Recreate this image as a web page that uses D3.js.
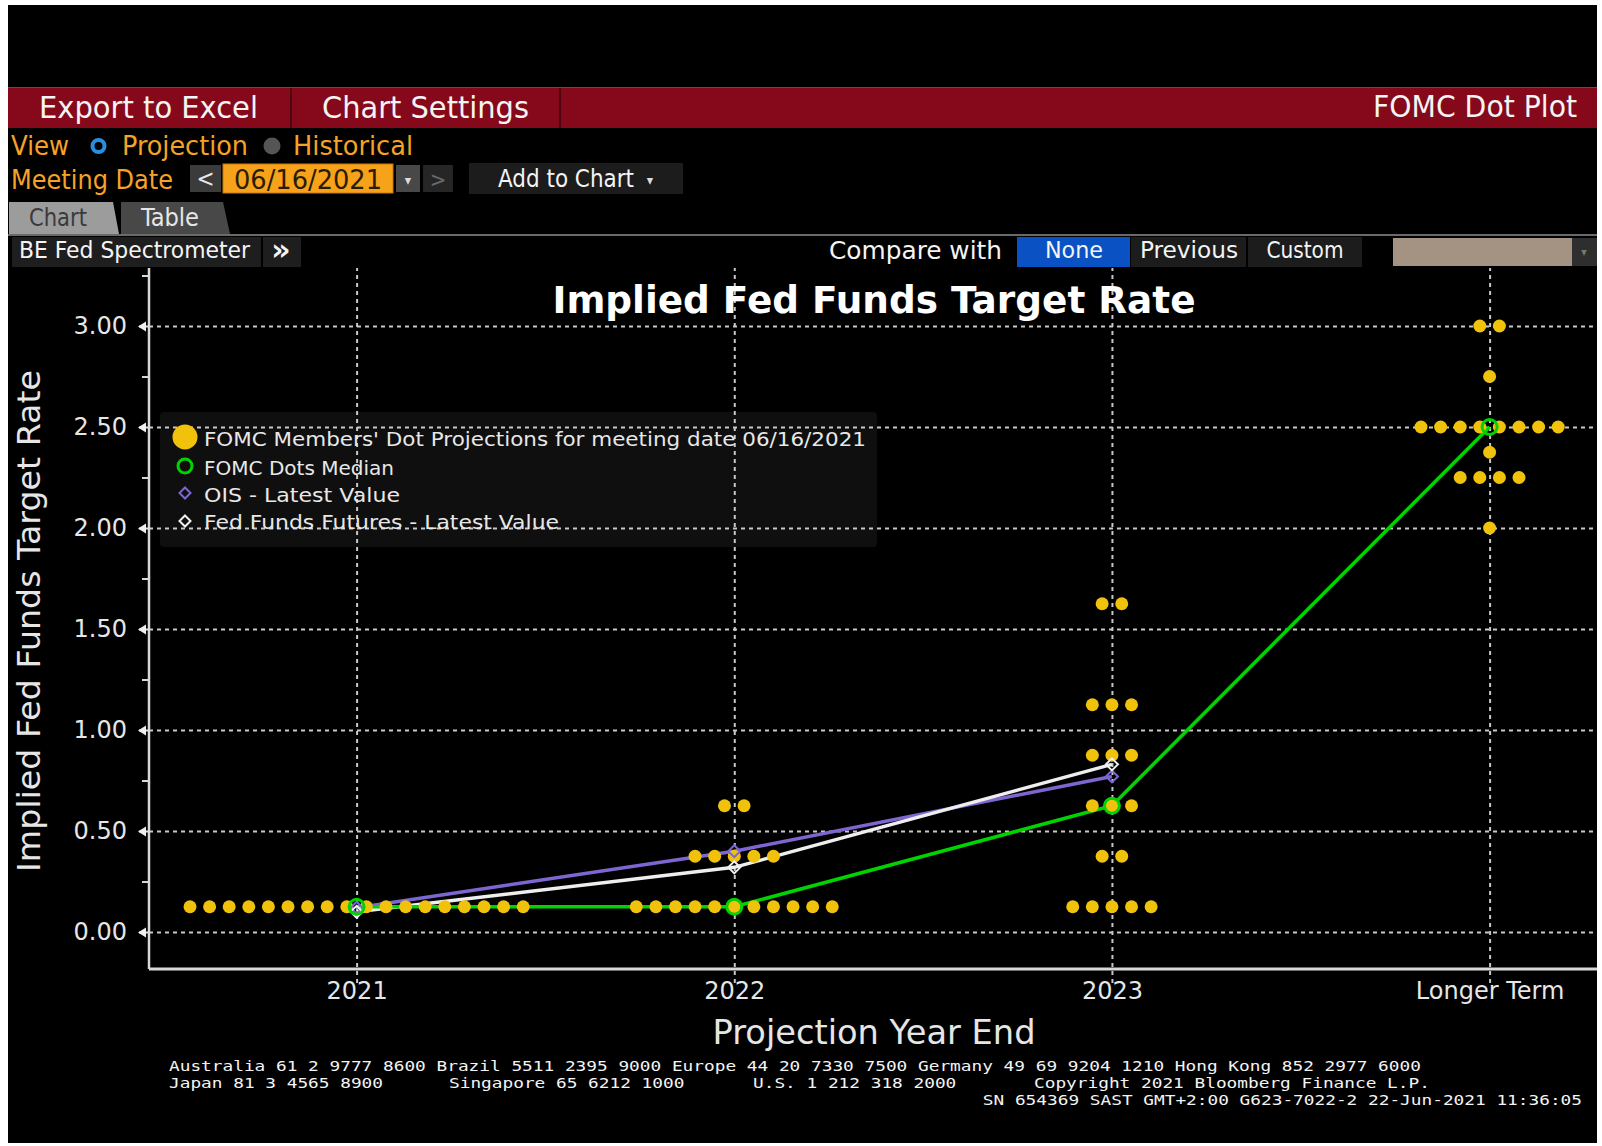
<!DOCTYPE html>
<html>
<head>
<meta charset="utf-8">
<script src="https://cdn.jsdelivr.net/npm/d3@7"></script>
<style>
  body { margin: 0; background: #fff; }
  svg { display: block; }
</style>
</head>
<body>
<script>
// categories on the x axis
const categories = ["2021", "2022", "2023", "Longer Term"];

// FOMC dots: [rate, number of members] per projection year
const dots2021 = [[0.125, 18]];
const dots2022 = [[0.125, 11], [0.375, 5], [0.625, 2]];
const dots2023 = [[0.125, 5], [0.375, 2], [0.625, 3], [0.875, 3], [1.125, 3], [1.625, 2]];
const dotsLonger = [[2.0, 1], [2.25, 4], [2.375, 1], [2.5, 8], [2.75, 1], [3.0, 2]];
const dotGroups = [dots2021, dots2022, dots2023, dotsLonger];

// line series
const medianValues = [0.125, 0.125, 0.625, 2.5];
const oisValues = [0.12, 0.40, 0.77];
const futuresValues = [0.10, 0.32, 0.83];

// axis ticks
const yMajorTicks = [0, 0.5, 1, 1.5, 2, 2.5, 3];
const yMinorTicks = [0.25, 0.75, 1.25, 1.75, 2.25, 2.75, 3.25];

const legendLabels = [
  "FOMC Members' Dot Projections for meeting date 06/16/2021",
  "FOMC Dots Median",
  "OIS - Latest Value",
  "Fed Funds Futures - Latest Value"
];

const footerLine1 = "Australia 61 2 9777 8600 Brazil 5511 2395 9000 Europe 44 20 7330 7500 Germany 49 69 9204 1210 Hong Kong 852 2977 6000";
const footerLine2 = ["Japan 81 3 4565 8900", "Singapore 65 6212 1000", "U.S. 1 212 318 2000", "Copyright 2021 Bloomberg Finance L.P."];
const footerLine3 = "SN 654369 SAST GMT+2:00 G623-7022-2 22-Jun-2021 11:36:05";

const W = 1602, H = 1146;
const uiFont = "'DejaVu Sans Condensed', 'DejaVu Sans', sans-serif";
const chartFont = "'DejaVu Sans', Verdana, sans-serif";
const orange = "#f5a327";
const dotColor = "#f0c20c";

const svg = d3.select("body").append("svg").attr("width", W).attr("height", H);

// black terminal panel
svg.append("rect").attr("x", 8).attr("y", 5).attr("width", 1589).attr("height", 1138).attr("fill", "#000");

// small helper for fitted text
function label(g, x, y, txt, size, color, width, anchor, font, weight) {
  const t = g.append("text")
    .attr("x", x).attr("y", y)
    .attr("font-family", font || uiFont)
    .attr("font-size", size)
    .attr("font-weight", weight || "normal")
    .attr("fill", color)
    .attr("text-anchor", anchor || "start")
    .text(txt);
  if (width) t.attr("textLength", width).attr("lengthAdjust", "spacingAndGlyphs");
  return t;
}

// ---- header bar ----
const head = svg.append("g");
head.append("rect").attr("x", 8).attr("y", 87).attr("width", 1589).attr("height", 41).attr("fill", "#85091a");
head.append("line").attr("x1", 8).attr("x2", 1597).attr("y1", 87.5).attr("y2", 87.5).attr("stroke", "#a33040");
[291, 560].forEach(function (sx) {
  head.append("line").attr("x1", sx).attr("x2", sx).attr("y1", 88).attr("y2", 128).attr("stroke", "#4e0510").attr("stroke-width", 2);
});
label(head, 39, 118, "Export to Excel", 31, "#f4f4f4", 219);
label(head, 322, 118, "Chart Settings", 31, "#f4f4f4", 207);
label(head, 1373, 117, "FOMC Dot Plot", 31, "#f4f4f4", 204);

// ---- view row ----
label(head, 11, 155, "View", 26, orange, 58);
head.append("circle").attr("cx", 98.5).attr("cy", 146).attr("r", 6).attr("fill", "none").attr("stroke", "#2a8ee0").attr("stroke-width", 4);
label(head, 122, 155, "Projection", 26, orange, 126);
head.append("circle").attr("cx", 272).attr("cy", 146).attr("r", 8.5).attr("fill", "#555");
label(head, 293, 155, "Historical", 26, orange, 120);

// ---- meeting date row ----
label(head, 11, 189, "Meeting Date", 26, orange, 162);
head.append("rect").attr("x", 190).attr("y", 165).attr("width", 31).attr("height", 27).attr("fill", "#3b3b3b");
label(head, 205.5, 187, "<", 24, "#e8e8e8", null, "middle");
head.append("rect").attr("x", 223).attr("y", 164).attr("width", 170).attr("height", 29).attr("fill", "#f7a21b").attr("stroke", "#c77a0a");
label(head, 308, 189, "06/16/2021", 26, "#2b1c00", 148, "middle");
head.append("rect").attr("x", 396).attr("y", 165).attr("width", 24).attr("height", 27).attr("fill", "#484848");
label(head, 408, 185, "▾", 14, "#ddd", null, "middle");
head.append("rect").attr("x", 423).attr("y", 165).attr("width", 30).attr("height", 27).attr("fill", "#262626");
label(head, 438, 187, ">", 22, "#6a6a6a", null, "middle");
head.append("rect").attr("x", 469).attr("y", 163).attr("width", 214).attr("height", 31).attr("fill", "#1c1c1c");
label(head, 498, 187, "Add to Chart", 24, "#f4f4f4", 136);
label(head, 650, 185, "▾", 14, "#ddd", null, "middle");

// ---- tabs ----
head.append("path").attr("d", "M9,234 L9,202 L113,202 L119,234 Z").attr("fill", "#9c9c9c");
label(head, 29, 226, "Chart", 24, "#3a3a3a", 58);
head.append("path").attr("d", "M121,234 L121,202 L223,202 L230,234 Z").attr("fill", "#484848");
label(head, 141, 226, "Table", 24, "#e6e6e6", 58);
head.append("line").attr("x1", 8).attr("x2", 1597).attr("y1", 235).attr("y2", 235).attr("stroke", "#6a6a6a").attr("stroke-width", 2);

// ---- toolbar ----
head.append("rect").attr("x", 12).attr("y", 237).attr("width", 249).attr("height", 30).attr("fill", "#1e1e1e");
label(head, 19, 258, "BE Fed Spectrometer", 23, "#f4f4f4", 231);
head.append("rect").attr("x", 263).attr("y", 237).attr("width", 38).attr("height", 30).attr("fill", "#1e1e1e");
label(head, 281, 260, "»", 30, "#f4f4f4", null, "middle", chartFont, "bold");
label(head, 829, 259, "Compare with", 25, "#f4f4f4", 173);
head.append("rect").attr("x", 1017).attr("y", 237).attr("width", 113).attr("height", 30).attr("fill", "#0a52c4");
label(head, 1074, 258, "None", 23, "#f4f4f4", 58, "middle");
head.append("rect").attr("x", 1131).attr("y", 237).attr("width", 115).attr("height", 30).attr("fill", "#1c1c1c");
label(head, 1189, 258, "Previous", 23, "#f4f4f4", 98, "middle");
head.append("rect").attr("x", 1248).attr("y", 237).attr("width", 114).attr("height", 30).attr("fill", "#1c1c1c");
label(head, 1305, 258, "Custom", 23, "#f4f4f4", 77, "middle");
head.append("rect").attr("x", 1393).attr("y", 238).attr("width", 179).attr("height", 28).attr("fill", "#a49282");
head.append("rect").attr("x", 1572).attr("y", 238).attr("width", 25).attr("height", 28).attr("fill", "#2e2e2e");
label(head, 1584, 256, "▾", 12, "#777", null, "middle");

// ---- chart ----
const plotLeft = 149, plotRight = 1597, plotTop = 268, plotBottom = 969;

const x = d3.scalePoint().domain(categories).range([356.6, 1489.6]);
const y = d3.scaleLinear().domain([0, 3]).range([932, 326]);

const chart = svg.append("g");

// legend background sits under the grid
chart.append("rect")
  .attr("x", 160).attr("y", 412).attr("width", 717).attr("height", 135)
  .attr("rx", 4).attr("fill", "#0f0f0f");

// horizontal grid
chart.append("g")
  .attr("transform", `translate(${plotLeft},0)`)
  .call(d3.axisLeft(y).tickValues(yMajorTicks).tickSize(-(plotRight - plotLeft)).tickFormat(""))
  .call(function (g) { g.select(".domain").remove(); })
  .selectAll("line")
  .attr("stroke", "#c8c8c8").attr("stroke-width", 2).attr("stroke-dasharray", "4,4");

// vertical grid
chart.append("g")
  .attr("transform", `translate(0,${plotBottom + 14})`)
  .call(d3.axisTop(x).tickSize(plotBottom + 14 - plotTop).tickFormat(""))
  .call(function (g) { g.select(".domain").remove(); })
  .selectAll("line")
  .attr("stroke", "#c8c8c8").attr("stroke-width", 2).attr("stroke-dasharray", "4,4");

// y axis line, minor ticks, labels
chart.append("line")
  .attr("x1", plotLeft).attr("x2", plotLeft).attr("y1", plotTop).attr("y2", plotBottom)
  .attr("stroke", "#d8d8d8").attr("stroke-width", 2.5);

chart.append("g")
  .attr("transform", `translate(${plotLeft},0)`)
  .call(d3.axisLeft(y).tickValues(yMinorTicks).tickSize(7).tickFormat(""))
  .call(function (g) { g.select(".domain").remove(); })
  .selectAll("line").attr("stroke", "#d8d8d8").attr("stroke-width", 2);

const yAxis = chart.append("g")
  .attr("transform", `translate(${plotLeft},0)`)
  .call(d3.axisLeft(y).tickValues(yMajorTicks).tickSize(10).tickPadding(12).tickFormat(d3.format(".2f")));
yAxis.select(".domain").remove();
yAxis.selectAll("line").attr("stroke", "#e0e0e0").attr("stroke-width", 2);
yAxis.selectAll(".tick").append("path")
  .attr("d", "M-11,0 L-3,-5 L-3,5 Z").attr("fill", "#f0f0f0");
yAxis.selectAll("text")
  .attr("font-family", chartFont).attr("font-size", 24).attr("fill", "#e6e6e6");

// x axis
chart.append("line")
  .attr("x1", plotLeft).attr("x2", plotRight).attr("y1", plotBottom).attr("y2", plotBottom)
  .attr("stroke", "#d8d8d8").attr("stroke-width", 3);

const xAxis = chart.append("g")
  .attr("transform", `translate(0,${plotBottom})`)
  .call(d3.axisBottom(x).tickSize(0).tickPadding(13));
xAxis.select(".domain").remove();
xAxis.selectAll("text")
  .attr("font-family", chartFont).attr("font-size", 24).attr("fill", "#e6e6e6")
  .attr("dy", "0.71em");

// titles
label(chart, 874, 313, "Implied Fed Funds Target Rate", 37, "#ffffff", 643, "middle", chartFont, "bold");
label(chart, 874, 1044, "Projection Year End", 33, "#e6e6e6", 323, "middle", chartFont);
label(chart, 0, 0, "Implied Fed Funds Target Rate", 32, "#e6e6e6", 502, "middle", chartFont)
  .attr("transform", "translate(40,621) rotate(-90)");

// line series
const line = d3.line()
  .x(function (d, i) { return x(categories[i]); })
  .y(function (d) { return y(d); });

chart.append("path").datum(oisValues).attr("d", line)
  .attr("fill", "none").attr("stroke", "#7d66d2").attr("stroke-width", 3.5);
chart.append("path").datum(futuresValues).attr("d", line)
  .attr("fill", "none").attr("stroke", "#eeeeee").attr("stroke-width", 3.5);
chart.append("path").datum(medianValues).attr("d", line)
  .attr("fill", "none").attr("stroke", "#00d400").attr("stroke-width", 3.5);

// FOMC dots, spread sideways around each category
const dotStep = 19.6;
const dotData = [];
dotGroups.forEach(function (group, gi) {
  group.forEach(function (row) {
    for (let k = 0; k < row[1]; k++) {
      dotData.push({ cat: categories[gi], value: row[0], offset: (k - (row[1] - 1) / 2) * dotStep });
    }
  });
});

chart.append("g").selectAll("circle")
  .data(dotData)
  .join("circle")
  .attr("cx", function (d) { return x(d.cat) + d.offset; })
  .attr("cy", function (d) { return y(d.value); })
  .attr("r", 6.5)
  .attr("fill", dotColor);

// markers (square diamonds like the terminal uses)
const diamond = "M0,-6 L6,0 L0,6 L-6,0 Z";

chart.append("g").selectAll("path")
  .data(oisValues)
  .join("path")
  .attr("d", diamond)
  .attr("transform", function (d, i) { return `translate(${x(categories[i])},${y(d)})`; })
  .attr("fill", "none").attr("stroke", "#7d66d2").attr("stroke-width", 2);

chart.append("g").selectAll("path")
  .data(futuresValues)
  .join("path")
  .attr("d", diamond)
  .attr("transform", function (d, i) { return `translate(${x(categories[i])},${y(d)})`; })
  .attr("fill", "none").attr("stroke", "#f0f0f0").attr("stroke-width", 2);

chart.append("g").selectAll("circle")
  .data(medianValues)
  .join("circle")
  .attr("cx", function (d, i) { return x(categories[i]); })
  .attr("cy", function (d) { return y(d); })
  .attr("r", 7.5)
  .attr("fill", "none").attr("stroke", "#00d400").attr("stroke-width", 3);

// legend items
const legend = chart.append("g");
legend.append("circle").attr("cx", 185).attr("cy", 437).attr("r", 12.5).attr("fill", dotColor);
legend.append("circle").attr("cx", 185).attr("cy", 466).attr("r", 7).attr("fill", "none").attr("stroke", "#00d400").attr("stroke-width", 3);
legend.append("path").attr("d", "M0,-5.5 L5.5,0 L0,5.5 L-5.5,0 Z").attr("transform", "translate(185,493)")
  .attr("fill", "none").attr("stroke", "#7d66d2").attr("stroke-width", 2);
legend.append("path").attr("d", "M0,-5.5 L5.5,0 L0,5.5 L-5.5,0 Z").attr("transform", "translate(185,521)")
  .attr("fill", "none").attr("stroke", "#f0f0f0").attr("stroke-width", 2);

const legendBase = [446, 475, 502, 529];
const legendWidths = [662, 190, 196, 355];
legendLabels.forEach(function (txt, i) {
  label(legend, 204, legendBase[i], txt, 20, "#e8e8e8", legendWidths[i], "start", chartFont);
});

// ---- footer (condensed mono, 10.7px per character) ----
const foot = svg.append("g");
const monoFont = "'DejaVu Sans Mono', monospace";
const charW = 10.7;
label(foot, 169, 1071, footerLine1, 14.5, "#f4f4f4", footerLine1.length * charW, "start", monoFont);
[169, 449, 753, 1034].forEach(function (fx, i) {
  label(foot, fx, 1088, footerLine2[i], 14.5, "#f4f4f4", footerLine2[i].length * charW, "start", monoFont);
});
label(foot, 1582 - footerLine3.length * charW, 1105, footerLine3, 14.5, "#f4f4f4", footerLine3.length * charW, "start", monoFont);
</script>
</body>
</html>
